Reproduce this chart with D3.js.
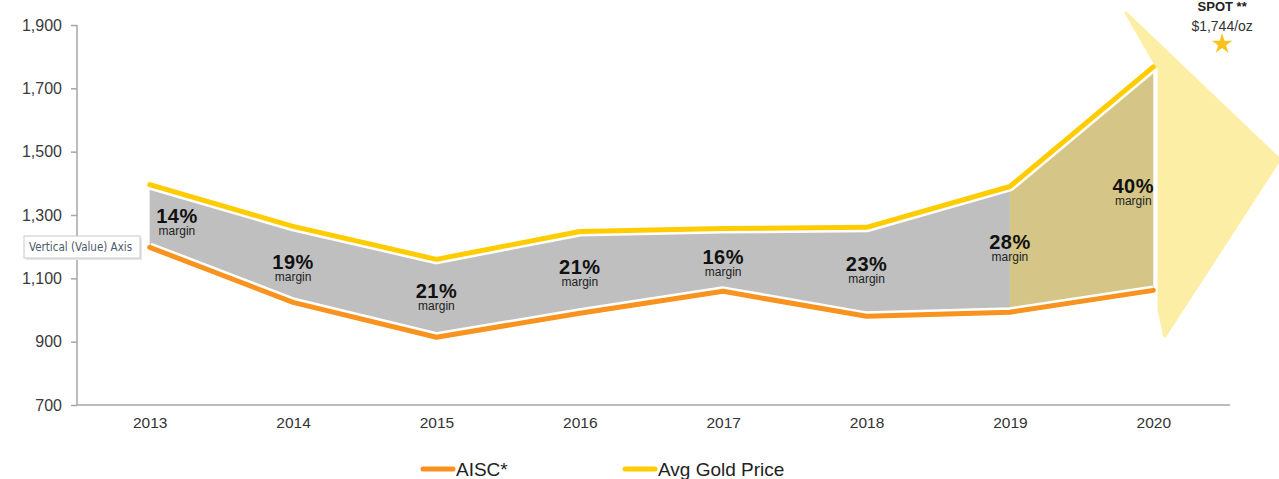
<!DOCTYPE html>
<html>
<head>
<meta charset="utf-8">
<script src="https://cdn.jsdelivr.net/npm/d3@7"></script>
<style>
  body { margin: 0; background: #fff; }
  text { font-family: "Liberation Sans", Arial, sans-serif; }
</style>
</head>
<body>
<div id="chart"></div>
<script>
// chart data
var years = ['2013', '2014', '2015', '2016', '2017', '2018', '2019', '2020'];
var goldPrice = [1396, 1264, 1160, 1248, 1257, 1261, 1390, 1768];
var aisc = [1198, 1024, 914, 990, 1059, 980, 993, 1062];
var margins = ['14%', '19%', '21%', '21%', '16%', '23%', '28%', '40%'];
var yTicks = [700, 900, 1100, 1300, 1500, 1700, 1900];
var spotLabel = 'SPOT **';
var spotPrice = '$1,744/oz';

var width = 1279;
var height = 479;

var svg = d3.select('#chart')
  .append('svg')
  .attr('width', width)
  .attr('height', height);

var xScale = d3.scalePoint()
  .domain(years)
  .range([78, 1225])
  .padding(0.5);

var yScale = d3.scaleLinear()
  .domain([700, 1900])
  .range([405, 25]);

// fractional year position, used for the decorations
function xAt(i) {
  return xScale(years[0]) + i * xScale.step();
}

var rows = years.map(function (y, i) {
  return { year: y, i: i, gold: goldPrice[i], aisc: aisc[i], margin: margins[i] };
});

// big pale arrow behind 2020
var arrowPts = [[6.81, 1938], [7.88, 1475], [7.08, 917], [7.04, 1000], [7.04, 1758]];
svg.append('path')
  .attr('d', 'M' + arrowPts.map(function (p) { return xAt(p[0]) + ',' + yScale(p[1]); }).join('L') + 'Z')
  .style('fill', '#fdeea6')
  .style('stroke', '#fdeea6')
  .style('stroke-width', 3)
  .style('stroke-linejoin', 'round');

// margin band
var band = d3.area()
  .x(function (d) { return xScale(d.year); })
  .y0(function (d) { return yScale(d.aisc); })
  .y1(function (d) { return yScale(d.gold); });

svg.append('path')
  .datum(rows.slice(0, 7))
  .attr('d', band)
  .style('fill', '#bfbfbf');

svg.append('path')
  .datum(rows.slice(6))
  .attr('d', band)
  .style('fill', '#d5c687');

// axes
var yAxis = d3.axisLeft(yScale)
  .tickValues(yTicks)
  .tickFormat(d3.format(','))
  .tickSize(6)
  .tickPadding(9);

var gy = svg.append('g')
  .attr('transform', 'translate(77,0)')
  .call(yAxis);
gy.select('.domain').attr('d', 'M0,' + yScale(1900) + 'V' + yScale(700)).style('stroke', '#a6a6a6').style('stroke-width', 1.5);
gy.selectAll('.tick line').style('stroke', '#a6a6a6').style('stroke-width', 1.5);
gy.selectAll('.tick text').style('font-size', '16px').style('fill', '#3a3a3a');

var xAxis = d3.axisBottom(xScale).tickSize(0).tickPadding(12);
var gx = svg.append('g')
  .attr('transform', 'translate(0,405)')
  .call(xAxis);
gx.select('.domain').attr('d', 'M77,0H1230').style('stroke', '#a6a6a6').style('stroke-width', 1.5);
gx.selectAll('.tick text').style('font-size', '15.5px').style('fill', '#333');

// lines with white halo
function drawLine(key, color) {
  var line = d3.line()
    .x(function (d) { return xScale(d.year); })
    .y(function (d) { return yScale(d[key]); });
  svg.append('path').datum(rows).attr('d', line)
    .style('fill', 'none').style('stroke', '#fff').style('stroke-width', 10)
    .style('stroke-linejoin', 'round');
  svg.append('path').datum(rows).attr('d', line)
    .style('fill', 'none').style('stroke', color).style('stroke-width', 5)
    .style('stroke-linejoin', 'round').style('stroke-linecap', 'round');
}
drawLine('aisc', '#f7931e');
drawLine('gold', '#ffcc00');

// margin labels (small nudges so they sit as in the original)
var labelShift = [0.19, 0, 0, 0, 0, 0, 0, -0.14];
var labelDy = [7, 5, 0, 2, 4, -1, 0, 14];
var lab = svg.selectAll('g.lab')
  .data(rows)
  .enter()
  .append('g')
  .attr('class', 'lab')
  .attr('transform', function (d) {
    var mid = (d.gold + d.aisc) / 2;
    return 'translate(' + xAt(d.i + labelShift[d.i]) + ',' + (yScale(mid) + labelDy[d.i]) + ')';
  });
lab.append('text')
  .attr('text-anchor', 'middle')
  .style('font-size', '20px')
  .style('font-weight', 'bold')
  .style('letter-spacing', '0.5px')
  .style('fill', '#111')
  .text(function (d) { return d.margin; });
lab.append('text')
  .attr('text-anchor', 'middle')
  .attr('y', 12)
  .style('font-size', '12px')
  .style('fill', '#222')
  .text('margin');

// spot price
var spotX = xAt(7.48);
svg.append('text')
  .attr('x', spotX).attr('y', 11)
  .attr('text-anchor', 'middle')
  .style('font-size', '13px').style('font-weight', 'bold').style('fill', '#222')
  .text(spotLabel);
svg.append('text')
  .attr('x', spotX).attr('y', 31)
  .attr('text-anchor', 'middle')
  .style('font-size', '14px').style('fill', '#333')
  .text(spotPrice);
svg.append('path')
  .attr('d', d3.symbol().type(d3.symbolStar).size(130))
  .attr('transform', 'translate(' + spotX + ',44)')
  .style('fill', '#f9c21b');

// tooltip box from the screenshot
var tip = svg.append('g').attr('transform', 'translate(24,236)');
tip.append('rect').attr('x', 2).attr('y', 2).attr('width', 116).attr('height', 22).style('fill', '#e6e6e6');
tip.append('rect').attr('width', 116).attr('height', 22).style('fill', '#fff').style('stroke', '#c8c8c8');
tip.append('text').attr('x', 5).attr('y', 15)
  .style('font-size', '11.5px').style('fill', '#4d5a6a')
  .style('font-family', '"DejaVu Sans Condensed", "Liberation Sans", sans-serif')
  .text('Vertical (Value) Axis');

// legend
var legend = [
  { label: 'AISC*', color: '#f7931e', x: 423 },
  { label: 'Avg Gold Price', color: '#ffcc00', x: 625 }
];
var lg = svg.selectAll('g.legend')
  .data(legend)
  .enter()
  .append('g')
  .attr('class', 'legend')
  .attr('transform', function (d) { return 'translate(' + d.x + ',469)'; });
lg.append('line')
  .attr('x1', 0).attr('x2', 30)
  .style('stroke', function (d) { return d.color; })
  .style('stroke-width', 5)
  .style('stroke-linecap', 'round');
lg.append('text')
  .attr('x', 33).attr('y', 7)
  .style('font-size', '19px').style('fill', '#222')
  .text(function (d) { return d.label; });
</script>
</body>
</html>
